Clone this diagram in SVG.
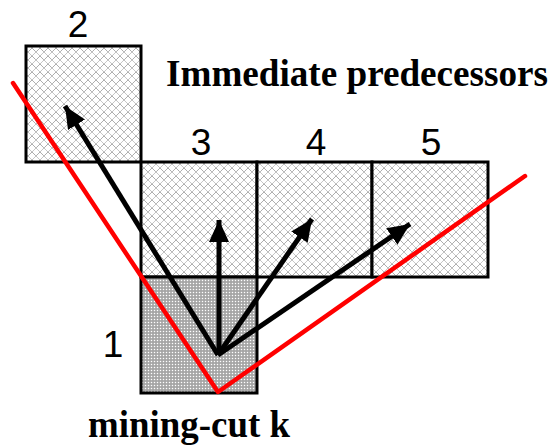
<svg xmlns="http://www.w3.org/2000/svg" width="555" height="445" viewBox="0 0 555 445">
  <style>
    .box { stroke: #000; stroke-width: 3; }
    .light { fill: url(#hatch); }
    .dark { fill: url(#dots); }
    .num { font-family: "Liberation Sans", Arial, sans-serif; font-size: 37px; fill: #000; text-anchor: middle; }
    .title { font-family: "Liberation Serif", "Times New Roman", serif; font-weight: bold; font-size: 37px; fill: #000; }
    .arrow { stroke: #000; stroke-width: 5; fill: none; marker-end: url(#head); }
    .red { stroke: #ff0000; stroke-width: 4.5; fill: none; stroke-linecap: round; stroke-linejoin: round; }
  </style>
  <defs>
    <pattern id="hatch" patternUnits="userSpaceOnUse" width="8" height="8">
      <rect width="8" height="8" fill="#ffffff"/>
      <path d="M0,0 L8,8 M8,0 L0,8" stroke="#8c8c8c" stroke-width="1" stroke-dasharray="1,0.6"/>
    </pattern>
    <pattern id="dots" patternUnits="userSpaceOnUse" width="3" height="3">
      <rect width="3" height="3" fill="#a6a6a6"/>
      <circle cx="1.5" cy="1.5" r="0.75" fill="#ffffff"/>
    </pattern>
    <marker id="head" markerUnits="userSpaceOnUse" markerWidth="24" markerHeight="20" viewBox="0 0 24 20" refX="22" refY="10" orient="auto">
      <path d="M0,0 L22,10 L0,20 Z" fill="#000"/>
    </marker>
  </defs>

  <g id="node2">
    <rect class="box light" x="26" y="46" width="115" height="116"/>
    <text class="num" x="78" y="37">2</text>
  </g>
  <g id="node3">
    <rect class="box light" x="141" y="162" width="116" height="115"/>
    <text class="num" x="201" y="155">3</text>
  </g>
  <g id="node4">
    <rect class="box light" x="257" y="162" width="115" height="115"/>
    <text class="num" x="316" y="155">4</text>
  </g>
  <g id="node5">
    <rect class="box light" x="372" y="162" width="116" height="115"/>
    <text class="num" x="431" y="155">5</text>
  </g>
  <g id="node1">
    <rect class="box dark" x="141" y="277" width="116" height="116"/>
    <text class="num" x="113" y="357">1</text>
  </g>

  <g id="connectors">
    <polyline class="red" points="13,83 218,392 525,176"/>
    <line class="arrow" x1="218" y1="355" x2="65" y2="106"/>
    <line class="arrow" x1="219" y1="355" x2="219" y2="220"/>
    <line class="arrow" x1="218" y1="355" x2="312" y2="219"/>
    <line class="arrow" x1="218" y1="355" x2="410" y2="224"/>
  </g>

  <g id="labels">
    <text class="title" x="166" y="86" textLength="382" lengthAdjust="spacingAndGlyphs">Immediate predecessors</text>
    <text class="title" x="88" y="437" textLength="202" lengthAdjust="spacingAndGlyphs">mining-cut k</text>
  </g>
</svg>
